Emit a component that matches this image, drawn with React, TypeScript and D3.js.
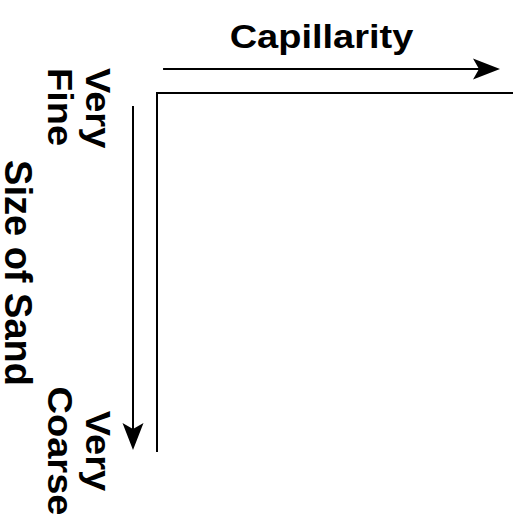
import React from 'react';
import * as d3 from 'd3';

// labels of the concept diagram
const xTitle = ['Capillarity'];
const yTitle = ['Size of Sand'];
const yStartLabel = ['Very', 'Fine'];
const yEndLabel = ['Very', 'Coarse'];

// relative extent of the two direction arrows along the axes (0..1)
const xArrowRange = [0.009, 1.0];
const yArrowRange = [0.009, 1.0];

const W = 513;
const H = 525;
const FONT = '"Liberation Sans", Arial, Helvetica, sans-serif';

function arrowHead(tx: number, ty: number, dir: 'right' | 'down') {
  const len = 27, half = 10.5, notch = 6;
  if (dir === 'right') {
    return `M${tx},${ty} L${tx - len},${ty - half} L${tx - len + notch},${ty} L${tx - len},${ty + half} Z`;
  }
  return `M${tx},${ty} L${tx - half},${ty - len} L${tx},${ty - len + notch} L${tx + half},${ty - len} Z`;
}

export default function App() {
  // the axis frame
  const x = d3.scaleLinear().domain([0, 1]).range([157, 513]);
  const y = d3.scaleLinear().domain([0, 1]).range([93, 452]);

  // arrow lines
  const ax = d3.scaleLinear().domain([0, 1]).range([160, 500]);
  const ay = d3.scaleLinear().domain([0, 1]).range([103, 450]);

  const line = d3.line<[number, number]>();

  const topArrowY = 69;
  const leftArrowX = 133;
  const x1 = ax(xArrowRange[0]), x2 = ax(xArrowRange[1]);
  const y1 = ay(yArrowRange[0]), y2 = ay(yArrowRange[1]);

  return (
    <svg width={W} height={H} style={{ position: 'absolute', left: 0, top: 0, background: '#fff' }}>
      {/* frame */}
      <path
        d={line([[x(0), y(1)], [x(0), y(0)], [x(1), y(0)]]) || ''}
        fill="none" stroke="#000" strokeWidth={2}
      />

      {/* capillarity arrow */}
      <path d={line([[x1, topArrowY], [x2 - 20, topArrowY]]) || ''} stroke="#000" strokeWidth={2} />
      <path d={arrowHead(x2, topArrowY, 'right')} fill="#000" />

      {/* sand size arrow */}
      <path d={line([[leftArrowX, y1], [leftArrowX, y2 - 20]]) || ''} stroke="#000" strokeWidth={2} />
      <path d={arrowHead(leftArrowX, y2, 'down')} fill="#000" />

      {/* titles */}
      <g transform={`translate(321.5,48) scale(1,0.88)`}>
        <text textAnchor="middle" fontFamily={FONT} fontWeight="bold" fontSize={38} fill="#000">
          {xTitle[0]}
        </text>
      </g>
      <g transform={`translate(5,273) rotate(90)`}>
        <text textAnchor="middle" fontFamily={FONT} fontWeight="bold" fontSize={38} fill="#000">
          {yTitle[0]}
        </text>
      </g>

      <g transform={`translate(86,68) rotate(90) scale(1,0.92)`}>
        {yStartLabel.map((t, i) => (
          <text key={t} x={0} y={i * 41} textAnchor="start" fontFamily={FONT} fontWeight="bold" fontSize={38} fill="#000">
            {t}
          </text>
        ))}
      </g>
      <g transform={`translate(86,451) rotate(90) scale(1,0.92)`}>
        {yEndLabel.map((t, i) => (
          <text key={t} x={0} y={i * 41} textAnchor="middle" fontFamily={FONT} fontWeight="bold" fontSize={38} fill="#000">
            {t}
          </text>
        ))}
      </g>
    </svg>
  );
}
